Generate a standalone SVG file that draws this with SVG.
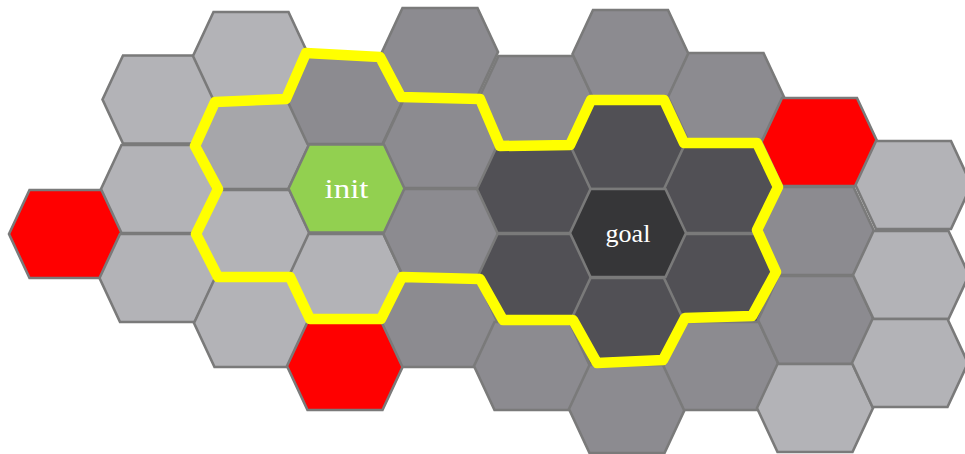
<svg xmlns="http://www.w3.org/2000/svg" xmlns:xlink="http://www.w3.org/1999/xlink" width="965" height="454" viewBox="0 0 965 454">
<style>
.h{stroke:#7a7a7a;stroke-width:2.6;stroke-linejoin:miter}
.lt{fill:#b3b3b7}
.lm{fill:#a6a6aa}
.md{fill:#8c8b90}
.dk{fill:#515055}
.gl{fill:#363638}
.rd{fill:#ff0000}
.gr{fill:#92d050}
.lbl{font-family:"Liberation Serif","DejaVu Serif",serif;font-size:26px;fill:#ffffff;text-anchor:middle}
.yp{fill:none;stroke:#ffff00;stroke-width:10.5;stroke-linejoin:round}
</style>
<defs>
<polygon id="hex" points="-58,0 -37.5,-44 37.5,-44 58,0 37.5,44 -37.5,44"/>
</defs>
<rect width="965" height="454" fill="#ffffff"/>
<g id="c0r0"><use xlink:href="#hex" x="67" y="234" class="h rd"/></g>
<g id="c1r0"><use xlink:href="#hex" x="160.5" y="99.5" class="h lt"/></g>
<g id="c1r1"><use xlink:href="#hex" x="159" y="189" class="h lt"/></g>
<g id="c1r2"><use xlink:href="#hex" x="157.5" y="278" class="h lt"/></g>
<g id="c2r0"><use xlink:href="#hex" x="251" y="56" class="h lt"/></g>
<g id="c2r1"><use xlink:href="#hex" x="251" y="145" class="h lm"/></g>
<g id="c2r2"><use xlink:href="#hex" x="252" y="234" class="h lt"/></g>
<g id="c2r3"><use xlink:href="#hex" x="252" y="323" class="h lt"/></g>
<g id="c3r0"><use xlink:href="#hex" x="345" y="100" class="h md"/></g>
<g id="c3r2"><use xlink:href="#hex" x="346" y="278" class="h lt"/></g>
<g id="c3r3"><use xlink:href="#hex" x="345" y="366" class="h rd"/></g>
<g id="c4r0"><use xlink:href="#hex" x="440" y="52" class="h md"/></g>
<g id="c4r1"><use xlink:href="#hex" x="441" y="144" class="h md"/></g>
<g id="c4r2"><use xlink:href="#hex" x="441" y="233" class="h md"/></g>
<g id="c4r3"><use xlink:href="#hex" x="440" y="323" class="h md"/></g>
<g id="c5r0"><use xlink:href="#hex" x="536" y="100" class="h md"/></g>
<g id="c5r1"><use xlink:href="#hex" x="535" y="189" class="h dk"/></g>
<g id="c5r2"><use xlink:href="#hex" x="535" y="278" class="h dk"/></g>
<g id="c5r3"><use xlink:href="#hex" x="532" y="366" class="h md"/></g>
<g id="c6r0"><use xlink:href="#hex" x="630.5" y="54" class="h md"/></g>
<g id="c6r1"><use xlink:href="#hex" x="628" y="145" class="h dk"/></g>
<g id="c6r3"><use xlink:href="#hex" x="628" y="322" class="h dk"/></g>
<g id="c6r4"><use xlink:href="#hex" x="627" y="409" class="h md"/></g>
<g id="c7r0"><use xlink:href="#hex" x="726" y="97" class="h md"/></g>
<g id="c7r1"><use xlink:href="#hex" x="722" y="189" class="h dk"/></g>
<g id="c7r2"><use xlink:href="#hex" x="722" y="278" class="h dk"/></g>
<g id="c7r3"><use xlink:href="#hex" x="721.5" y="366" class="h md"/></g>
<g id="c8r0"><use xlink:href="#hex" x="819.5" y="142" class="h rd"/></g>
<g id="c8r1"><use xlink:href="#hex" x="816" y="231" class="h md"/></g>
<g id="c8r2"><use xlink:href="#hex" x="816" y="320" class="h md"/></g>
<g id="c8r3"><use xlink:href="#hex" x="815" y="408" class="h lt"/></g>
<g id="c9r0"><use xlink:href="#hex" x="913.5" y="185" class="h lt"/></g>
<g id="c9r1"><use xlink:href="#hex" x="911" y="275" class="h lt"/></g>
<g id="c9r2"><use xlink:href="#hex" x="910" y="363" class="h lt"/></g>
<g id="init"><use xlink:href="#hex" x="346.5" y="188.5" class="h gr"/><text class="lbl" x="346.5" y="198" style="font-size:28px" textLength="44" lengthAdjust="spacingAndGlyphs">init</text></g>
<g id="goal"><use xlink:href="#hex" x="628" y="233" class="h gl"/><text class="lbl" x="628" y="242">goal</text></g>
<g id="connectors">
<polygon class="yp" points="306,53 380,57 401,97 480,99 500,146 570,145 591,100 664,100 684,143 757,143 778,187 757,230 776,272 752,316 685,318 663,360 597,363 573,320 503,320 480,279 402,277 381,319 310,319 290,277 218,277 196,234 218,189 195,146 215,102 286,99"/>
</g>
</svg>
